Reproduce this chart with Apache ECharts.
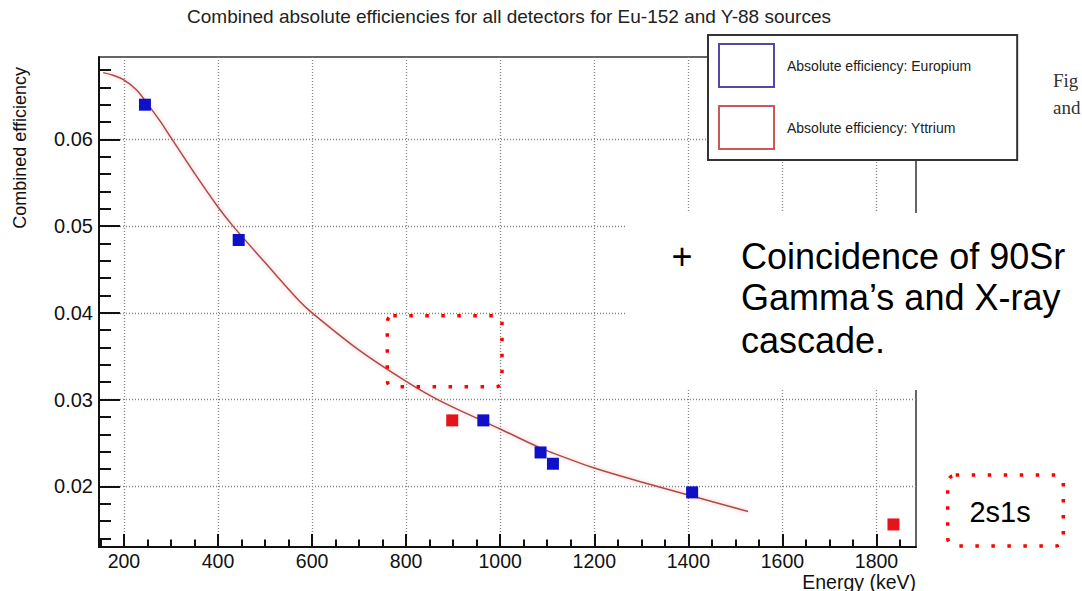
<!DOCTYPE html>
<html>
<head>
<meta charset="utf-8">
<title>Combined absolute efficiencies</title>
<script src="https://cdn.jsdelivr.net/npm/echarts@6/dist/echarts.min.js"></script>
<style>
  html, body { margin: 0; padding: 0; background: #ffffff; }
  #chart { width: 1082px; height: 591px; }
</style>
</head>
<body>
<div id="chart"></div>
<script>
// Eu-152 gamma lines (keV) and combined absolute efficiency
const euEnergy = [244.7, 444.0, 964.1, 1085.8, 1112.1, 1408.0];
const euEff = [0.0640, 0.0484, 0.0276, 0.0239, 0.0226, 0.0193];

// Y-88 gamma lines (keV) and combined absolute efficiency
const yEnergy = [898.0, 1836.1];
const yEff = [0.0276, 0.0156];

// Efficiency fit curve, sampled along energy
const fitEnergy = [156, 177, 199, 227, 250, 277, 300, 350, 400, 432, 500, 574, 600, 700, 800, 867, 964, 1000, 1086, 1114, 1200, 1300, 1400, 1527];
const fitEff = [0.0677, 0.0674, 0.0669, 0.0657, 0.0641, 0.0621, 0.0602, 0.0561, 0.0522, 0.0500, 0.0458, 0.0413, 0.0400, 0.0357, 0.0321, 0.0300, 0.0275, 0.0266, 0.0244, 0.0238, 0.0221, 0.0205, 0.0190, 0.0171];

// Axis ticks
const xMajorTicks = [200, 400, 600, 800, 1000, 1200, 1400, 1600, 1800];
const xMinorTicks = [150, 250, 300, 350, 450, 500, 550, 650, 700, 750, 850, 900, 950, 1050, 1100, 1150, 1250, 1300, 1350, 1450, 1500, 1550, 1650, 1700, 1750, 1850];
const yMajorTicks = [0.02, 0.03, 0.04, 0.05, 0.06];
const yMinorTicks = [0.014, 0.016, 0.018, 0.022, 0.024, 0.026, 0.028, 0.032, 0.034, 0.036, 0.038, 0.042, 0.044, 0.046, 0.048, 0.052, 0.054, 0.056, 0.058, 0.062, 0.064, 0.066, 0.068];

const seriesNames = ['Absolute efficiency: Europium', 'Absolute efficiency: Yttrium'];

const SANS = '"Liberation Sans", Arial, Helvetica, sans-serif';
const SERIF = '"Liberation Serif", "Times New Roman", serif';
const INK = '#111111';

const pairs = (xs, ys) => xs.map((x, i) => [x, ys[i]]);

const gridLine = { show: true, lineStyle: { color: '#858585', type: [1, 2], width: 1.3 } };

const chart = echarts.init(document.getElementById('chart'), null, { renderer: 'svg' });

chart.setOption({
  backgroundColor: '#ffffff',
  animation: false,
  title: {
    text: 'Combined absolute efficiencies for all detectors for Eu-152 and Y-88 sources',
    left: 509,
    top: 7,
    textAlign: 'center',
    padding: 0,
    textStyle: { fontFamily: SANS, fontSize: 19, fontWeight: 'normal', color: '#222', lineHeight: 19 }
  },
  grid: {
    left: 99, top: 57, width: 817, height: 490,
    show: true, borderColor: '#333', borderWidth: 1.5,
    outerBoundsMode: 'none'
  },
  legend: {
    orient: 'vertical',
    left: 708,
    top: 35,
    padding: [8, 46, 10, 10],
    itemWidth: 55,
    itemHeight: 43,
    itemGap: 17,
    icon: 'rect',
    selectedMode: false,
    backgroundColor: '#ffffff',
    borderColor: '#333',
    borderWidth: 2,
    borderRadius: 0,
    textStyle: { fontFamily: SANS, fontSize: 14, color: '#222', padding: [0, 0, 0, 8] },
    data: [
      { name: seriesNames[0], itemStyle: { color: '#ffffff', borderColor: '#5448a6', borderWidth: 2 } },
      { name: seriesNames[1], itemStyle: { color: '#ffffff', borderColor: '#c65b58', borderWidth: 2 } }
    ]
  },
  xAxis: [
    {
      type: 'value', min: 147, max: 1884, position: 'bottom',
      axisLine: { show: true, lineStyle: { color: INK, width: 2 } },
      axisTick: { show: true, inside: true, length: 13, customValues: xMajorTicks, lineStyle: { color: INK, width: 2 } },
      axisLabel: {
        customValues: xMajorTicks, margin: 5.5, lineHeight: 16,
        fontFamily: SANS, fontSize: 19.5, color: INK,
        formatter: v => String(v)
      },
      splitLine: gridLine,
      minorTick: { show: false },
      name: 'Energy (keV)',
      nameLocation: 'end',
      nameGap: 0,
      nameMoveOverlap: false,
      nameTextStyle: { align: 'right', verticalAlign: 'top', padding: [26.5, 0, 0, 0], fontFamily: SANS, fontSize: 19.5, color: INK, lineHeight: 16 }
    },
    {
      type: 'value', min: 147, max: 1884, position: 'bottom',
      axisLine: { show: false },
      axisTick: { show: true, inside: true, length: 7.5, customValues: xMinorTicks, lineStyle: { color: INK, width: 2 } },
      axisLabel: { show: false },
      splitLine: { show: false }
    }
  ],
  yAxis: [
    {
      type: 'value', min: 0.013, max: 0.0695, position: 'left',
      axisLine: { show: true, lineStyle: { color: INK, width: 2 } },
      axisTick: { show: true, inside: true, length: 21, customValues: yMajorTicks, lineStyle: { color: INK, width: 2 } },
      axisLabel: {
        customValues: yMajorTicks, margin: 6,
        fontFamily: SANS, fontSize: 20, color: INK,
        formatter: v => v.toFixed(2)
      },
      splitLine: gridLine,
      minorTick: { show: false },
      name: 'Combined efficiency',
      nameLocation: 'end',
      nameGap: -10,
      nameRotate: 90,
      nameMoveOverlap: false,
      nameTextStyle: { align: 'right', verticalAlign: 'bottom', padding: [0, 0, 70, 0], fontFamily: SANS, fontSize: 18, color: INK, lineHeight: 18 }
    },
    {
      type: 'value', min: 0.013, max: 0.0695, position: 'left',
      axisLine: { show: false },
      axisTick: { show: true, inside: true, length: 12, customValues: yMinorTicks, lineStyle: { color: INK, width: 2 } },
      axisLabel: { show: false },
      splitLine: { show: false }
    }
  ],
  series: [
    {
      type: 'line',
      name: 'fit',
      data: pairs(fitEnergy, fitEff),
      showSymbol: false,
      smooth: 0.35,
      silent: true,
      z: 2,
      lineStyle: { color: '#a84c4a', width: 1.5, shadowColor: 'rgba(255,110,110,0.55)', shadowBlur: 4 }
    },
    {
      type: 'scatter',
      name: seriesNames[0],
      data: pairs(euEnergy, euEff),
      symbol: 'rect',
      symbolSize: 12,
      z: 3,
      itemStyle: { color: '#1010c8', opacity: 1 }
    },
    {
      type: 'scatter',
      name: seriesNames[1],
      data: pairs(yEnergy, yEff),
      symbol: 'rect',
      symbolSize: 12,
      z: 3,
      itemStyle: { color: '#e3141a', opacity: 1 }
    }
  ],
  graphic: [
    // slide text panel laid over the lower right of the plot
    { type: 'rect', z: 100, shape: { x: 625, y: 213, width: 470, height: 177 }, style: { fill: '#ffffff' } },
    { type: 'text', z: 101, x: 682, y: 256, style: { text: '+', font: '36px ' + SANS, fill: '#000', align: 'center', verticalAlign: 'middle' } },
    { type: 'text', z: 101, x: 741, y: 256, style: { text: 'Coincidence of 90Sr', font: '36px ' + SANS, fill: '#000', align: 'left', verticalAlign: 'middle' } },
    { type: 'text', z: 101, x: 741, y: 297.5, style: { text: 'Gamma\u2019s and X-ray', font: '36px ' + SANS, fill: '#000', align: 'left', verticalAlign: 'middle' } },
    { type: 'text', z: 101, x: 741, y: 340, style: { text: 'cascade.', font: '36px ' + SANS, fill: '#000', align: 'left', verticalAlign: 'middle' } },
    // dotted highlight frames
    { type: 'rect', z: 102, shape: { x: 387.3, y: 315.7, width: 114.7, height: 71, r: 6 }, style: { fill: 'transparent', stroke: '#ff0000', lineWidth: 3.5, lineDash: [3.5, 12.5] } },
    { type: 'rect', z: 102, shape: { x: 947.7, y: 475, width: 115.6, height: 71, r: 8 }, style: { fill: 'transparent', stroke: '#ff0000', lineWidth: 3.5, lineDash: [3.5, 12.5] } },
    { type: 'text', z: 101, x: 1000, y: 512, style: { text: '2s1s', font: '29px ' + SANS, fill: '#000', align: 'center', verticalAlign: 'middle' } },
    // caption fragment at the right edge
    { type: 'text', z: 101, x: 1053, y: 80, style: { text: 'Fig', font: '19px ' + SERIF, fill: '#333', align: 'left', verticalAlign: 'middle' } },
    { type: 'text', z: 101, x: 1053, y: 107.5, style: { text: 'and', font: '19px ' + SERIF, fill: '#333', align: 'left', verticalAlign: 'middle' } }
  ]
});
</script>
</body>
</html>
